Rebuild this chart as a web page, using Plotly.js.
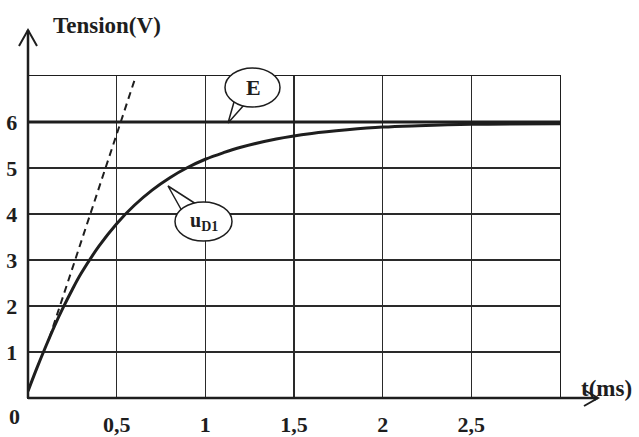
<!DOCTYPE html>
<html>
<head>
<meta charset="utf-8">
<script src="https://cdn.plot.ly/plotly-3.0.1.min.js"></script>
<style>html,body{margin:0;padding:0;background:#fff;}#chart{width:639px;height:437px;}</style>
</head>
<body>
<div id="chart"></div>
<script>
// Values
const timeMs = [0, 0.05, 0.1, 0.15, 0.2, 0.25, 0.3, 0.4, 0.5, 0.6, 0.7, 0.8, 0.9, 1.0, 1.1, 1.2, 1.4, 1.6, 1.8, 2.0, 2.2, 2.5, 3.0];
const uD1 = [0.15, 0.65, 1.12, 1.57, 1.98, 2.36, 2.71, 3.30, 3.79, 4.19, 4.52, 4.79, 5.01, 5.19, 5.33, 5.45, 5.63, 5.75, 5.83, 5.89, 5.92, 5.95, 5.96];
const eTime = [0, 3];
const eValue = [6, 6];
const tangentTime = [0.12, 0.6];
const tangentValue = [1.3, 6.9];
const xTickVals = [0.5, 1, 1.5, 2, 2.5];
const xTickText = ["0,5", "1", "1,5", "2", "2,5"];
const yTickVals = [1, 2, 3, 4, 5, 6];
const yTickText = ["1", "2", "3", "4", "5", "6"];

const ink = "#1e1e1e";
const serif = {family: "Liberation Serif, DejaVu Serif, serif", size: 22, color: ink, weight: "bold"};
const titleFont = Object.assign({}, serif, {size: 23});

const traces = [
  {x: eTime, y: eValue, mode: "lines", line: {color: ink, width: 3}, hoverinfo: "skip"},
  {x: tangentTime, y: tangentValue, mode: "lines", line: {color: ink, width: 2, dash: "7px,5px"}, hoverinfo: "skip"},
  {x: timeMs, y: uD1, mode: "lines", line: {color: ink, width: 3, shape: "spline", smoothing: 1}, hoverinfo: "skip"}
];

const P = (px, py) => [(px - 28) / 532, (398 - py) / 322];
function pathFrom(points) {
  return points.map((p, i) => (i ? "L" : "M") + P(p[0], p[1]).join(",")).join(" ");
}

const shapes = [
  {type: "line", xref: "paper", yref: "paper", x0: 0, y0: 0, x1: 0, y1: P(28, 30)[1], line: {color: ink, width: 2.5}},
  {type: "path", xref: "paper", yref: "paper", path: pathFrom([[19, 46], [28, 30], [37, 46]]), line: {color: ink, width: 2}},
  {type: "line", xref: "paper", yref: "paper", x0: 0, y0: 0, x1: P(598, 398)[0], y1: 0, line: {color: ink, width: 2.5}},
  {type: "path", xref: "paper", yref: "paper", path: pathFrom([[584, 390], [598, 398], [584, 406]]), line: {color: ink, width: 2}},
  {type: "path", xref: "paper", yref: "paper", path: pathFrom([[234, 102], [228, 123], [244, 105]]), line: {color: ink, width: 1.5}},
  {type: "circle", xref: "paper", yref: "paper", x0: P(225, 0)[0], x1: P(280, 0)[0], y0: P(0, 107)[1], y1: P(0, 68)[1], fillcolor: "#fff", line: {color: ink, width: 1.5}},
  {type: "path", xref: "paper", yref: "paper", path: pathFrom([[182, 211], [168, 186], [196, 204]]), line: {color: ink, width: 1.5}},
  {type: "circle", xref: "paper", yref: "paper", x0: P(175, 0)[0], x1: P(232, 0)[0], y0: P(0, 241)[1], y1: P(0, 202)[1], fillcolor: "#fff", line: {color: ink, width: 1.5}}
];

const annotations = [
  {xref: "paper", yref: "paper", x: P(107, 0)[0], y: P(0, 25)[1], text: "Tension(V)", showarrow: false, font: titleFont, xanchor: "center", yanchor: "middle"},
  {xref: "paper", yref: "paper", x: P(606, 0)[0], y: P(0, 388)[1], text: "t(ms)", showarrow: false, font: titleFont, xanchor: "center", yanchor: "middle"},
  {xref: "paper", yref: "paper", x: P(14, 0)[0], y: P(0, 416)[1], text: "0", showarrow: false, font: serif, xanchor: "center", yanchor: "middle"},
  {xref: "paper", yref: "paper", x: P(253, 0)[0], y: P(0, 88)[1], text: "E", showarrow: false, font: serif, xanchor: "center", yanchor: "middle"},
  {xref: "paper", yref: "paper", x: P(204, 0)[0], y: P(0, 221)[1], text: "u<sub>D1</sub>", showarrow: false, font: Object.assign({}, serif, {size: 20}), xanchor: "center", yanchor: "middle"}
];

const layout = {
  width: 639, height: 437,
  margin: {l: 28, r: 79, t: 76, b: 39},
  paper_bgcolor: "#fff", plot_bgcolor: "#fff",
  showlegend: false,
  font: serif,
  xaxis: {range: [0, 3], tickvals: xTickVals, ticktext: xTickText, showgrid: true, gridcolor: "#2a2a2a", gridwidth: 1.2,
          zeroline: false, showline: true, mirror: true, linecolor: ink, linewidth: 1.3, ticks: "", ticklabelstandoff: 6, tickfont: serif, fixedrange: true},
  yaxis: {range: [0, 7], tickvals: yTickVals, ticktext: yTickText, showgrid: true, gridcolor: "#2a2a2a", gridwidth: 1.2,
          zeroline: false, showline: true, mirror: true, linecolor: ink, linewidth: 1.3, ticks: "", ticklabelstandoff: 5, tickfont: serif, fixedrange: true},
  shapes: shapes,
  annotations: annotations
};

Plotly.newPlot("chart", traces, layout, {displayModeBar: false, staticPlot: true});
</script>
</body>
</html>
